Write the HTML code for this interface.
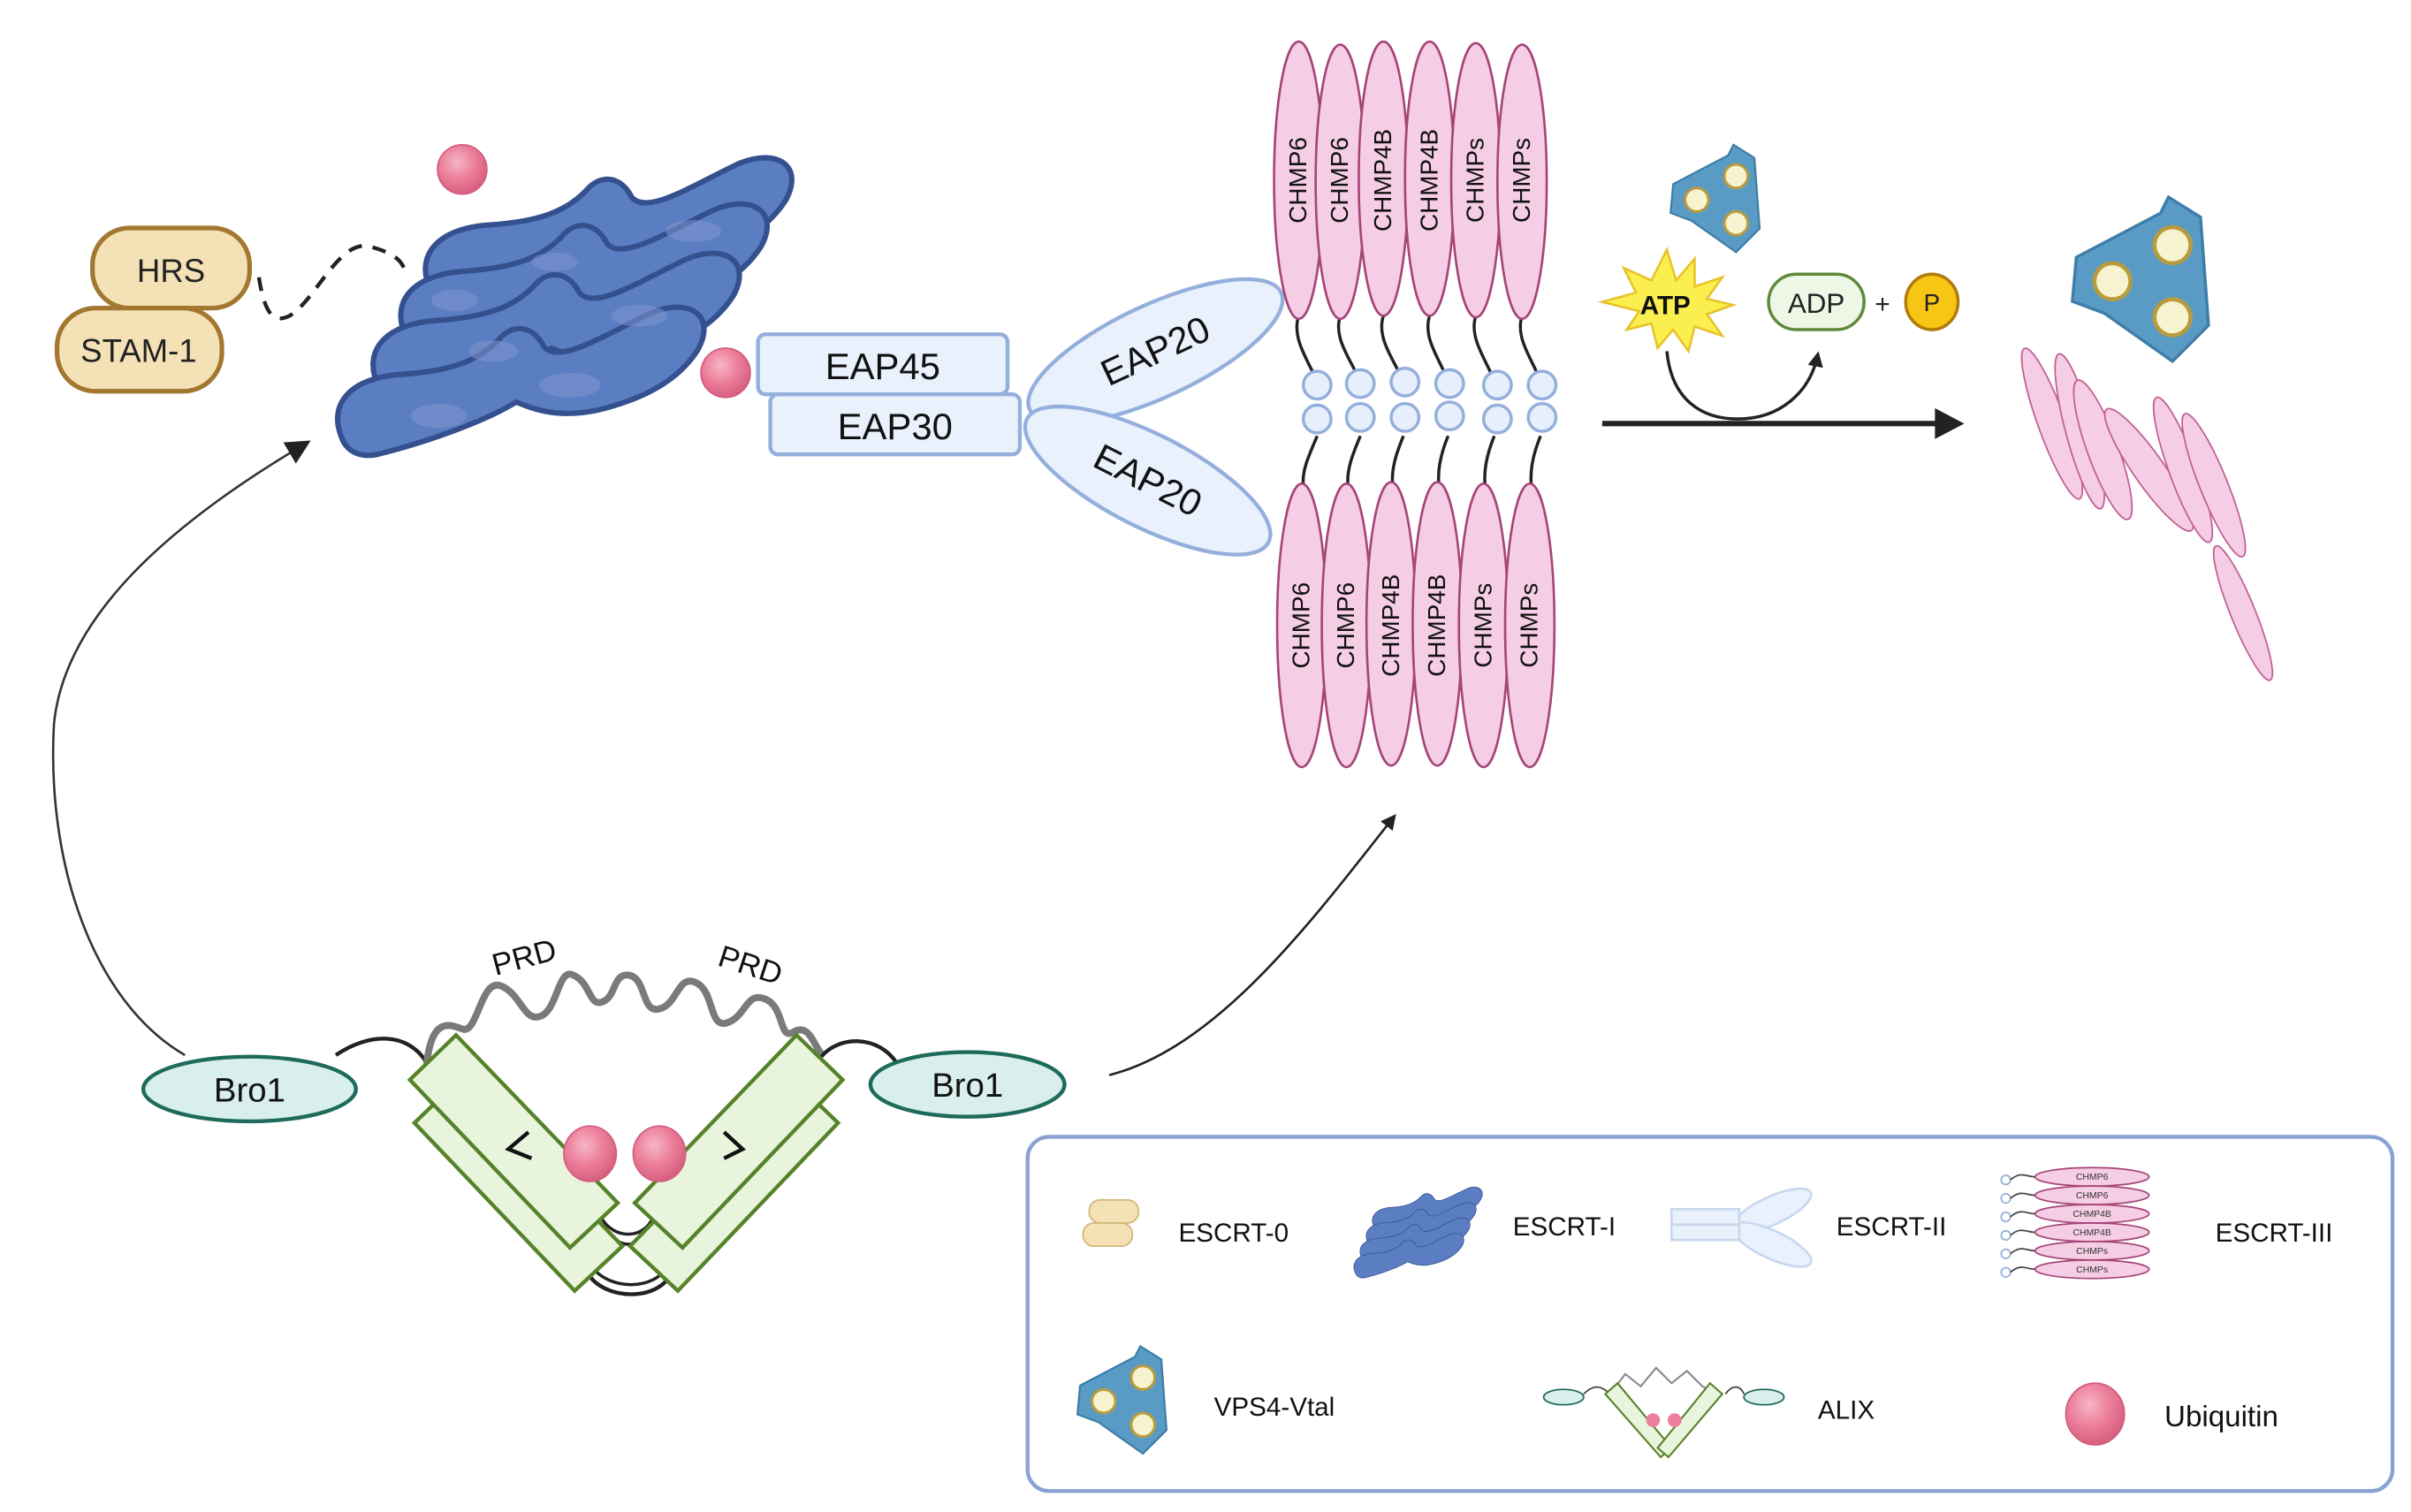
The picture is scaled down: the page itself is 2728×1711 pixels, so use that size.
<!DOCTYPE html>
<html><head><meta charset="utf-8"><style>
html,body{margin:0;padding:0;background:#fff;}
svg{display:block;}
text{font-family:"Liberation Sans",sans-serif;}
</style></head><body>
<svg width="2728" height="1711" viewBox="0 0 1565 981.6" xmlns="http://www.w3.org/2000/svg">
<defs>
<radialGradient id="ub" cx="0.4" cy="0.35" r="0.7"><stop offset="0" stop-color="#f6b6c6"/><stop offset="0.5" stop-color="#ec7f9b"/><stop offset="1" stop-color="#d55a7c"/></radialGradient>
<marker id="ah" markerWidth="10" markerHeight="10" refX="8" refY="5" orient="auto" markerUnits="userSpaceOnUse"><path d="M0,0 L10,5 L0,10 z" fill="#222"/></marker>
<marker id="ah2" markerWidth="16" markerHeight="16" refX="14" refY="8" orient="auto" markerUnits="userSpaceOnUse"><path d="M0,0 L16,8 L0,16 z" fill="#222"/></marker>
<g id="vps">
<path d="M-34,-10 L8,-32 L12,-40 L28,-30 L32,24 L14,42 L-20,18 L-36,12 Z" fill="#5a9bc6" stroke="#3d7da8" stroke-width="1.5"/>
<circle cx="-16" cy="2" r="9" fill="#f7f2cf" stroke="#b89b3c" stroke-width="2"/>
<circle cx="14" cy="-16" r="9" fill="#f7f2cf" stroke="#b89b3c" stroke-width="2"/>
<circle cx="14" cy="20" r="9" fill="#f7f2cf" stroke="#b89b3c" stroke-width="2"/>
</g>
<path id="lobe" d="M280,190 C268,165 285,148 318,146 C348,144 368,138 382,122 C392,112 404,116 410,128 C420,140 450,120 480,106 C505,96 522,108 510,130 C496,152 472,162 450,168 C420,176 402,168 392,164 C376,174 342,188 302,198 C292,200 284,197 280,190 Z"/>
</defs>

<!-- ESCRT-0 -->
<rect x="60" y="148" width="102" height="52" rx="24" fill="#f4e2b6" stroke="#a3772f" stroke-width="3"/>
<text x="111" y="183" font-size="21" text-anchor="middle" fill="#222">HRS</text>
<rect x="37" y="200" width="107" height="54" rx="25" fill="#f4e2b6" stroke="#a3772f" stroke-width="3"/>
<text x="90" y="235" font-size="21" text-anchor="middle" fill="#222">STAM-1</text>
<path d="M168,180 C172,205 178,210 188,205 C205,195 220,155 240,160 C258,165 262,170 264,180" fill="none" stroke="#222" stroke-width="2.5" stroke-dasharray="9,7"/>

<!-- ESCRT-I blob -->
<g stroke="#34508e" stroke-width="3.5" fill="#5b7ec2" stroke-linejoin="round">
<use href="#lobe"/>
<use href="#lobe" transform="translate(-16,30)"/>
<use href="#lobe" transform="translate(-34,62)"/>
<use href="#lobe" transform="translate(-57,97)"/>
</g>
<g fill="#7f95cf" opacity="0.55">
<ellipse cx="285" cy="270" rx="18" ry="8"/><ellipse cx="370" cy="250" rx="20" ry="8"/><ellipse cx="320" cy="228" rx="16" ry="7"/><ellipse cx="415" cy="205" rx="18" ry="7"/><ellipse cx="295" cy="195" rx="15" ry="7"/><ellipse cx="450" cy="150" rx="18" ry="7"/><ellipse cx="360" cy="170" rx="15" ry="6"/>
</g>
<circle cx="300" cy="110" r="16" fill="url(#ub)" stroke="#d35d7d" stroke-width="1"/>
<circle cx="471" cy="242" r="16" fill="url(#ub)" stroke="#d35d7d" stroke-width="1"/>

<!-- ESCRT-II -->
<g fill="#e9f1fc" stroke="#94afdc" stroke-width="2.5">
<ellipse cx="750" cy="228" rx="90" ry="30" transform="rotate(-25 750 228)"/>
<ellipse cx="745" cy="312" rx="88" ry="30" transform="rotate(27 745 312)"/>
<rect x="492" y="217" width="162" height="39" rx="5"/>
<rect x="500" y="256" width="162" height="39" rx="5"/>
</g>
<text x="573" y="246" font-size="24" text-anchor="middle" fill="#111">EAP45</text>
<text x="581" y="285" font-size="24" text-anchor="middle" fill="#111">EAP30</text>
<text x="750" y="236" font-size="24" text-anchor="middle" fill="#111" transform="rotate(-25 750 228)">EAP20</text>
<text x="745" y="320" font-size="24" text-anchor="middle" fill="#111" transform="rotate(27 745 312)">EAP20</text>

<!-- ESCRT-III -->
<g fill="none" stroke="#222" stroke-width="2">
<path d="M843,205 C838,220 850,235 855,248"/><path d="M870,205 C865,220 878,235 883,248"/><path d="M898,205 C893,220 906,235 911,248"/><path d="M928,205 C923,220 936,235 940,248"/><path d="M958,205 C953,220 966,235 970,248"/><path d="M988,205 C983,220 996,235 1000,248"/>
<path d="M855,283 C850,295 845,305 846,315"/><path d="M883,283 C878,295 874,305 875,315"/><path d="M911,283 C906,295 903,305 904,315"/><path d="M940,283 C935,295 933,305 934,315"/><path d="M970,283 C965,295 963,305 964,315"/><path d="M1000,283 C995,295 993,305 994,315"/>
</g>
<g fill="#e6effb" stroke="#94afdc" stroke-width="2">
<circle cx="855" cy="250" r="9"/><circle cx="883" cy="249" r="9"/><circle cx="912" cy="248" r="9"/><circle cx="941" cy="249" r="9"/><circle cx="972" cy="250" r="9"/><circle cx="1001" cy="250" r="9"/>
<circle cx="855" cy="272" r="9"/><circle cx="883" cy="271" r="9"/><circle cx="912" cy="271" r="9"/><circle cx="941" cy="270" r="9"/><circle cx="972" cy="272" r="9"/><circle cx="1001" cy="271" r="9"/>
</g>
<g fill="#f5cde4" stroke="#a64479" stroke-width="1.5">
<ellipse cx="843" cy="117" rx="16" ry="90"/><ellipse cx="870" cy="118" rx="16" ry="89"/><ellipse cx="898" cy="116" rx="16" ry="89"/><ellipse cx="928" cy="116" rx="16" ry="89"/><ellipse cx="958" cy="117" rx="16" ry="89"/><ellipse cx="988" cy="118" rx="16" ry="89"/>
<ellipse cx="845" cy="406" rx="16" ry="92"/><ellipse cx="874" cy="406" rx="16" ry="92"/><ellipse cx="903" cy="405" rx="16" ry="92"/><ellipse cx="933" cy="405" rx="16" ry="92"/><ellipse cx="963" cy="406" rx="16" ry="92"/><ellipse cx="993" cy="406" rx="16" ry="92"/>
</g>
<g font-size="16" fill="#111" text-anchor="middle">
<text transform="translate(848,117) rotate(-90)">CHMP6</text>
<text transform="translate(875,117) rotate(-90)">CHMP6</text>
<text transform="translate(903,117) rotate(-90)">CHMP4B</text>
<text transform="translate(933,117) rotate(-90)">CHMP4B</text>
<text transform="translate(963,117) rotate(-90)">CHMPs</text>
<text transform="translate(993,117) rotate(-90)">CHMPs</text>
<text transform="translate(850,406) rotate(-90)">CHMP6</text>
<text transform="translate(879,406) rotate(-90)">CHMP6</text>
<text transform="translate(908,406) rotate(-90)">CHMP4B</text>
<text transform="translate(938,406) rotate(-90)">CHMP4B</text>
<text transform="translate(968,406) rotate(-90)">CHMPs</text>
<text transform="translate(998,406) rotate(-90)">CHMPs</text>
</g>

<!-- reaction -->
<line x1="1040" y1="275" x2="1258" y2="275" stroke="#222" stroke-width="3.5"/>
<path d="M1256,265 L1275,275 L1256,285 z" fill="#222"/>
<path d="M1082,228 C1085,260 1105,272 1128,272 C1155,272 1175,255 1180,230" fill="none" stroke="#222" stroke-width="2" marker-end="url(#ah)"/>
<path d="M1082,162 L1088,182 L1100,168 L1100,186 L1118,180 L1108,194 L1125,198 L1108,204 L1118,218 L1100,212 L1096,228 L1086,214 L1076,226 L1072,210 L1056,214 L1064,202 L1040,196 L1062,190 L1054,174 L1072,182 Z" fill="#fbef4f" stroke="#e8c32a" stroke-width="1.5"/>
<text x="1081" y="204" font-size="17" font-weight="bold" text-anchor="middle" fill="#111">ATP</text>
<rect x="1148" y="178" width="62" height="36" rx="18" fill="#eef6e6" stroke="#5e8a3a" stroke-width="2"/>
<text x="1179" y="203" font-size="18" text-anchor="middle" fill="#222">ADP</text>
<text x="1222" y="203" font-size="17" text-anchor="middle" fill="#222">+</text>
<ellipse cx="1254" cy="196" rx="17" ry="18" fill="#f7c514" stroke="#b07a0e" stroke-width="2"/>
<text x="1254" y="202" font-size="16" text-anchor="middle" fill="#222">P</text>

<use href="#vps" transform="translate(1115,128) scale(0.85)"/>
<use href="#vps" transform="translate(1392,180) scale(1.3)"/>

<g fill="#f5cde4" stroke="#c05f95" stroke-width="1">
<ellipse cx="1332" cy="275" rx="9" ry="52" transform="rotate(-20 1332 275)"/>
<ellipse cx="1350" cy="280" rx="9" ry="52" transform="rotate(-15 1350 280)"/>
<ellipse cx="1365" cy="292" rx="10" ry="48" transform="rotate(-20 1365 292)"/>
<ellipse cx="1395" cy="305" rx="10" ry="48" transform="rotate(-35 1395 305)"/>
<ellipse cx="1417" cy="305" rx="9" ry="50" transform="rotate(-20 1417 305)"/>
<ellipse cx="1437" cy="315" rx="9" ry="50" transform="rotate(-22 1437 315)"/>
<ellipse cx="1456" cy="398" rx="8" ry="47" transform="rotate(-22 1456 398)"/>
</g>

<!-- connectors -->
<path d="M120,685 C60,650 30,560 35,470 C42,400 110,340 200,287" fill="none" stroke="#333" stroke-width="1.5" marker-end="url(#ah2)"/>
<path d="M720,698 C790,680 850,600 905,530" fill="none" stroke="#222" stroke-width="1.5" marker-end="url(#ah)"/>

<!-- ALIX -->
<path d="M218,685 C240,670 265,670 277,690" fill="none" stroke="#222" stroke-width="2.5"/>
<path d="M533,686 C545,672 570,672 582,690" fill="none" stroke="#222" stroke-width="2.5"/>
<path d="M277,691 C280,660 292,665 300,668 C310,672 312,635 325,640 C338,645 340,663 350,660 C362,657 362,628 372,633 C384,638 382,655 392,650 C400,646 398,632 408,633 C420,635 416,658 428,655 C440,652 440,632 452,638 C464,644 460,668 472,664 C484,660 484,645 495,648 C510,652 505,676 515,670 C525,664 528,678 533,684" fill="none" stroke="#7a7a7a" stroke-width="4.5"/>
<text transform="translate(342,628) rotate(-15)" font-size="20" text-anchor="middle" fill="#111">PRD</text>
<text transform="translate(485,633) rotate(18)" font-size="20" text-anchor="middle" fill="#111">PRD</text>
<path d="M390,790 C398,805 418,805 424,790" fill="none" stroke="#222" stroke-width="2"/>
<path d="M392,795 C400,812 416,812 422,795" fill="none" stroke="#222" stroke-width="2"/>
<path d="M381,826 C392,845 428,845 436,826" fill="none" stroke="#222" stroke-width="2.5"/>
<path d="M384,822 C395,838 425,838 433,822" fill="none" stroke="#222" stroke-width="2"/>
<g fill="#e8f5dc" stroke="#56822a" stroke-width="2.5" stroke-linejoin="miter">
<polygon points="269,729 299,700 404,809 373,838"/>
<polygon points="544,729 514,700 409,809 440,838"/>
<polygon points="266,701 296,672 401,781 370,810"/>
<polygon points="547,701 517,672 412,781 443,810"/>
</g>
<path d="M343,735 L330,746 L345,752" fill="none" stroke="#111" stroke-width="2.5"/>
<path d="M470,735 L482,746 L470,752" fill="none" stroke="#111" stroke-width="2.5"/>
<ellipse cx="383" cy="749" rx="17" ry="18" fill="url(#ub)" stroke="#d35d7d" stroke-width="1"/>
<ellipse cx="428" cy="749" rx="17" ry="18" fill="url(#ub)" stroke="#d35d7d" stroke-width="1"/>
<ellipse cx="162" cy="707" rx="69" ry="21" fill="#d8efec" stroke="#1e6b5c" stroke-width="2.5"/>
<text x="162" y="715" font-size="22" text-anchor="middle" fill="#111">Bro1</text>
<ellipse cx="628" cy="704" rx="63" ry="21" fill="#d8efec" stroke="#1e6b5c" stroke-width="2.5"/>
<text x="628" y="712" font-size="22" text-anchor="middle" fill="#111">Bro1</text>

<!-- legend -->
<rect x="667" y="738" width="886" height="230" rx="14" fill="#fff" stroke="#8aa2d3" stroke-width="2.5"/>
<g font-size="17" fill="#111">
<text x="765" y="806">ESCRT-0</text>
<text x="982" y="802">ESCRT-I</text>
<text x="1192" y="802">ESCRT-II</text>
<text x="1438" y="806">ESCRT-III</text>
<text x="788" y="919">VPS4-Vtal</text>
<text x="1180" y="921">ALIX</text>
<text x="1405" y="926" font-size="19">Ubiquitin</text>
</g>
<rect x="707" y="779" width="32" height="15" rx="7" fill="#f4e2b6" stroke="#d2b67a"/>
<rect x="703" y="794" width="32" height="15" rx="7" fill="#f4e2b6" stroke="#d2b67a"/>
<g stroke="#34508e" stroke-width="1.5" fill="#5b7ec2">
<use href="#lobe" transform="translate(808,740) scale(0.3)"/>
<use href="#lobe" transform="translate(804,750) scale(0.3)"/>
<use href="#lobe" transform="translate(800,760) scale(0.3)"/>
<use href="#lobe" transform="translate(796,770) scale(0.3)"/>
</g>
<g fill="#e9f1fc" stroke="#c7d7ee" stroke-width="1.5">
<ellipse cx="1150" cy="786" rx="28" ry="9" transform="rotate(-25 1150 786)"/>
<ellipse cx="1150" cy="808" rx="28" ry="9" transform="rotate(25 1150 808)"/>
<rect x="1085" y="785" width="44" height="10"/><rect x="1085" y="795" width="44" height="10"/>
</g>
<g fill="#f5cde4" stroke="#a64479" stroke-width="1">
<ellipse cx="1358" cy="764" rx="37" ry="6"/><ellipse cx="1358" cy="776" rx="37" ry="6"/><ellipse cx="1358" cy="788" rx="37" ry="6"/><ellipse cx="1358" cy="800" rx="37" ry="6"/><ellipse cx="1358" cy="812" rx="37" ry="6"/><ellipse cx="1358" cy="824" rx="37" ry="6"/>
</g>
<g font-size="6" text-anchor="middle" fill="#333">
<text x="1358" y="766">CHMP6</text><text x="1358" y="778">CHMP6</text><text x="1358" y="790">CHMP4B</text><text x="1358" y="802">CHMP4B</text><text x="1358" y="814">CHMPs</text><text x="1358" y="826">CHMPs</text>
</g>
<g fill="none" stroke="#94afdc" stroke-width="1"><circle cx="1302" cy="766" r="3"/><circle cx="1302" cy="778" r="3"/><circle cx="1302" cy="790" r="3"/><circle cx="1302" cy="802" r="3"/><circle cx="1302" cy="814" r="3"/><circle cx="1302" cy="826" r="3"/></g>
<g fill="none" stroke="#444" stroke-width="1"><path d="M1305,766 C1312,760 1315,764 1321,764 M1305,778 C1312,772 1315,776 1321,776 M1305,790 C1312,784 1315,788 1321,788 M1305,802 C1312,796 1315,800 1321,800 M1305,814 C1312,808 1315,812 1321,812 M1305,826 C1312,820 1315,824 1321,824"/></g>
<use href="#vps" transform="translate(730,908) scale(0.85)"/>
<g>
<ellipse cx="1015" cy="907" rx="13" ry="5" fill="#d8efec" stroke="#1e6b5c"/>
<ellipse cx="1145" cy="907" rx="13" ry="5" fill="#d8efec" stroke="#1e6b5c"/>
<path d="M1028,905 C1035,898 1040,900 1045,905 M1120,905 C1125,898 1130,900 1132,905" fill="none" stroke="#444" stroke-width="1"/>
<path d="M1045,905 L1055,892 L1065,900 L1075,888 L1085,898 L1095,890 L1105,900 L1115,905" fill="none" stroke="#888" stroke-width="1.2"/>
<g fill="#e8f5dc" stroke="#56822a" stroke-width="1.2">
<polygon points="1042,905 1050,898 1085,940 1078,946"/><polygon points="1118,905 1110,898 1076,940 1083,946"/>
</g>
<circle cx="1073" cy="922" r="4.5" fill="#ec7f9b"/><circle cx="1087" cy="922" r="4.5" fill="#ec7f9b"/>
</g>
<ellipse cx="1360" cy="918" rx="19" ry="20" fill="url(#ub)" stroke="#d35d7d" stroke-width="1"/>
</svg>
</body></html>
